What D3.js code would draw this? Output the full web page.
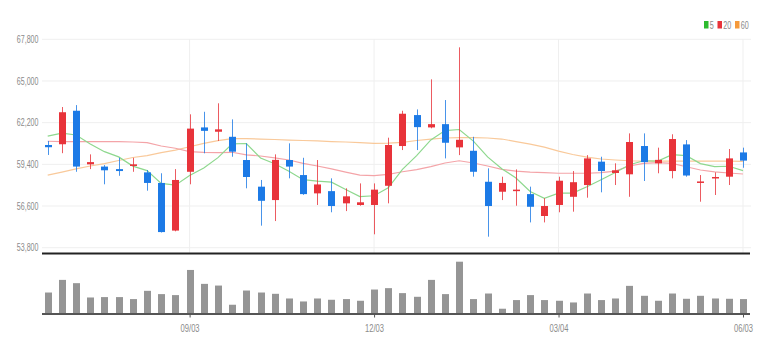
<!DOCTYPE html>
<html><head><meta charset="utf-8">
<script src="https://cdn.jsdelivr.net/npm/d3@7"></script>
<style>
body{margin:0;background:#fff}
text{font-family:"Liberation Sans",Arial,sans-serif;}
</style>
</head><body><svg id="c" width="766" height="353"></svg>
<script>
const dates = ["06/25","07/02","07/09","07/16","07/23","07/30","08/06","08/13","08/20","08/27",
"09/03","09/10","09/17","09/24","10/01","10/08","10/15","10/22","10/29","11/05",
"11/12","11/19","11/26","12/03","12/10","12/17","12/24","12/31","01/07","01/14",
"01/21","01/28","02/04","02/11","02/18","02/25","03/04","03/11","03/18","03/25",
"04/01","04/08","04/15","04/22","04/29","05/06","05/13","05/20","05/27","06/03"];
const open = [60700,60750,63000,59400,59250,59080,59290,58860,58150,54950,
58900,61880,61590,61250,59690,57900,57000,59690,58680,57450,
57600,56780,56670,56670,57960,60630,62710,61880,62100,60540,
60310,58230,57560,57650,57400,55930,56670,57220,58010,59580,
58820,58730,60630,59470,58950,60740,58150,58460,58570,60200];
const high = [60970,63250,63380,60070,59350,59840,59840,59020,58800,59080,
62760,62930,63500,62420,60810,58350,60070,60810,59840,59690,
58460,57790,58120,58120,61190,63000,63090,65110,63720,67260,
61250,59130,58570,59060,57900,57120,58570,58950,60020,59910,
59470,61480,61480,60520,61420,61030,58680,58860,60430,60520];
const low = [60030,60150,58900,59080,58060,58630,58900,57630,54820,54900,
58060,60140,60970,59910,57790,55280,55590,58460,57350,56670,
56180,56260,56620,54700,56780,60360,60360,61820,59800,60020,
58570,54540,57000,56620,55500,55500,56180,56220,57160,57520,
58010,57220,58280,58800,58460,58570,56890,57340,58010,59170];
const close = [60550,62900,59250,59550,59000,58950,59400,58150,54850,58350,
61800,61650,61750,60250,58550,56950,59700,59250,57400,58050,
56600,57250,56850,57700,60700,62800,61900,62100,60850,61050,
58900,56600,58150,57700,56550,56600,58300,58200,59800,58950,
59000,60900,59550,59700,61100,58650,58250,58550,59800,59650];
const volume = [206,333,300,156,160,160,140,223,190,180,
433,293,276,83,226,206,193,146,116,146,
133,140,123,236,250,200,163,333,190,516,
140,196,43,130,180,130,123,106,196,130,
146,273,173,123,196,143,173,146,143,140];
const ma5 = [61300,61500,61370,60760,60250,59900,59280,58980,58120,58000,
58650,59150,59850,60780,60800,59830,59440,58940,58370,58270,
58200,57710,57230,57290,57820,59060,59990,61040,61670,61740,
60960,59900,59110,58480,57580,57120,57460,57470,57890,58370,
58850,59370,59640,59620,60050,59980,59450,59250,59270,58980];
const ma20 = [60950,60930,60920,60920,60920,60920,60900,60860,60630,60480,
60260,60210,60190,60210,60030,59960,59840,59690,59470,59290,
59090,58880,58680,58640,58730,58900,59050,59250,59490,59640,
59490,59290,59060,58950,58880,58850,58800,58800,58800,58840,
58950,59290,59470,59510,59470,59240,59020,58900,58820,58750];
const ma60 = [58680,58880,59090,59290,59450,59660,59860,59990,60190,60360,
60580,60810,60990,61130,61130,61100,61070,61030,61000,60970,
60930,60900,60860,60810,60830,60880,61000,61100,61170,61200,
61200,61170,61100,60930,60760,60560,60290,60060,59890,59760,
59690,59640,59620,59620,59620,59620,59620,59620,59620,59600];
const priceTicks = [53800,56600,59400,62200,65000,67800];
const dateTicks = ["09/03","12/03","03/04","06/03"];
const legendLabels = ["5","20","60"];

const svg = d3.select("#c");
const L = 42, R = 751;
const UP = "#e8333a", DOWN = "#1c7ae6";
const TXT = "#8a8a8a";
const x = d3.scalePoint().domain(dates).range([47.7, 743]);
const y = d3.scaleLinear().domain([53800, 67800]).range([247.7, 39.3]);
const yv = d3.scaleLinear().domain([0, 520]).range([313, 261.3]);

// horizontal grid
svg.append("g").selectAll("line").data(priceTicks).join("line")
  .attr("x1", L).attr("x2", R).attr("y1", d => y(d)).attr("y2", d => y(d))
  .attr("stroke", "#efefef").attr("stroke-width", 1);
// vertical grid
svg.append("g").selectAll("line").data(dateTicks).join("line")
  .attr("x1", d => x(d)).attr("x2", d => x(d)).attr("y1", 39).attr("y2", 253)
  .attr("stroke", "#efefef").attr("stroke-width", 1);

// y axis labels
const yAxis = d3.axisLeft(y).tickValues(priceTicks).tickSize(0).tickPadding(0)
  .tickFormat(d3.format(","));
const gy = svg.append("g").attr("transform", "translate(38.5,0)").call(yAxis);
gy.select(".domain").remove();
gy.selectAll("text").attr("fill", TXT).attr("font-size", 10)
  .attr("font-family", '"Liberation Sans",Arial,sans-serif')
  .attr("transform", "scale(0.71,1)");

// MA lines
const line = arr => d3.line().x((d, i) => x(dates[i])).y(d => y(d))(arr);
[[ma60, "#f9c99a"], [ma20, "#f4a4a8"], [ma5, "#8ed88e"]].forEach(([arr, c]) => {
  svg.append("path").attr("d", line(arr)).attr("fill", "none")
    .attr("stroke", c).attr("stroke-width", 1.2);
});

// candles
const idx = d3.range(dates.length);
const bw = 7;
const g = svg.append("g");
g.selectAll("line.w").data(idx).join("line").attr("class", "w")
  .attr("x1", i => Math.round(x(dates[i])) + 0.5).attr("x2", i => Math.round(x(dates[i])) + 0.5)
  .attr("y1", i => y(high[i])).attr("y2", i => y(low[i]))
  .attr("stroke", i => close[i] >= open[i] ? UP : DOWN).attr("stroke-width", 1).attr("opacity", 0.8);
g.selectAll("rect.b").data(idx).join("rect").attr("class", "b")
  .attr("x", i => Math.round(x(dates[i])) + 0.5 - bw / 2)
  .attr("width", bw)
  .attr("y", i => y(Math.max(open[i], close[i])))
  .attr("height", i => Math.max(1.5, Math.abs(y(open[i]) - y(close[i]))))
  .attr("fill", i => close[i] >= open[i] ? UP : DOWN);

// separator
svg.append("line").attr("x1", L).attr("x2", R - 1).attr("y1", 253.5).attr("y2", 253.5)
  .attr("stroke", "#222").attr("stroke-width", 2);

// volume bars
svg.append("g").selectAll("rect").data(idx).join("rect")
  .attr("x", i => Math.round(x(dates[i])) + 0.5 - 3.5).attr("width", 7)
  .attr("y", i => yv(volume[i])).attr("height", i => yv(0) - yv(volume[i]))
  .attr("fill", "#959595");

// volume x axis
const xAxis = d3.axisBottom(x).tickValues(dateTicks).tickSize(4).tickPadding(7);
const gx = svg.append("g").attr("transform", "translate(0,313.5)").call(xAxis);
gx.select(".domain").attr("d", `M${L},0.5H${R - 1}`).attr("stroke", "#555").attr("stroke-width", 2);
gx.selectAll(".tick line").attr("stroke", "#555");
gx.selectAll("text").attr("fill", TXT).attr("font-size", 10)
  .attr("font-family", '"Liberation Sans",Arial,sans-serif')
  .attr("transform", "scale(0.76,1)");

// legend
const legColors = ["#2dbb2d", "#e8333a", "#f59a3c"];
const legX = [704, 717.5, 735];
const lg = svg.append("g");
legendLabels.forEach((t, i) => {
  lg.append("rect").attr("x", legX[i]).attr("y", 21).attr("width", 4.5).attr("height", 7.5).attr("fill", legColors[i]);
  lg.append("text").attr("transform", `translate(${legX[i] + 5.8},25) scale(0.72,1)`).attr("dy", "0.35em")
    .attr("font-size", 10).attr("fill", TXT).text(t);
});
</script>
</body></html>
